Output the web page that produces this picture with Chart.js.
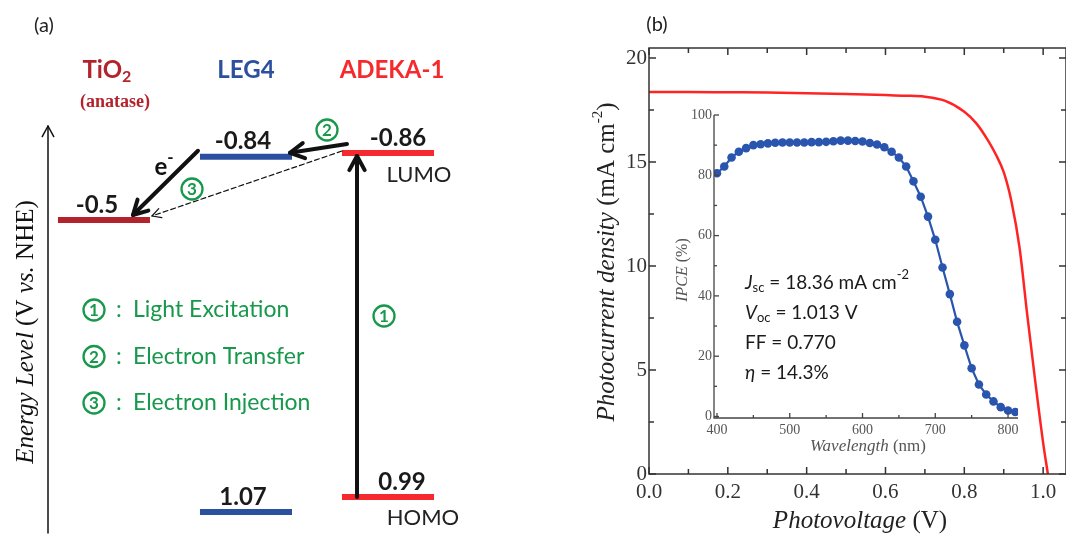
<!DOCTYPE html>
<html>
<head>
<meta charset="utf-8">
<script src="https://cdn.jsdelivr.net/npm/chart.js@4.4.0/dist/chart.umd.min.js"></script>
<style>
body{margin:0;background:#fff}
#wrap{position:relative;width:1066px;height:535px;overflow:hidden;background:#fff}
canvas{position:absolute}
</style>
</head>
<body>
<div id="wrap">
<canvas id="levels" width="560" height="535" style="left:0;top:0"></canvas>
<canvas id="jv" width="506" height="535" style="left:560px;top:0"></canvas>
<canvas id="ipce" width="370" height="370" style="left:660px;top:95px"></canvas>
</div>
<script>
// panel (a): energy levels (V vs NHE)
const species = ['TiO2', 'LEG4', 'ADEKA-1'];
const lumo = [-0.5, -0.84, -0.86];
const homo = [null, 1.07, 0.99];
const levelColors = ['#b3232b', '#2c50a0', '#f62a2e'];
const steps = ['Light Excitation', 'Electron Transfer', 'Electron Injection'];

// panel (b): J-V curve
const voltage = [0, 0.1, 0.2, 0.3, 0.4, 0.5, 0.6, 0.65, 0.7, 0.75, 0.8, 0.83, 0.86, 0.88, 0.9, 0.92, 0.94, 0.96, 0.98, 1.0, 1.012];
const current = [18.36, 18.36, 18.35, 18.34, 18.31, 18.27, 18.22, 18.19, 18.14, 17.95, 17.42, 16.87, 16.04, 15.36, 14.51, 13.07, 10.9, 7.6, 4.45, 1.5, 0];
const jvXTicks = [0, 0.2, 0.4, 0.6, 0.8, 1.0];
const jvXMinor = [0.1, 0.3, 0.5, 0.7, 0.9];
const jvYTicks = [0, 5, 10, 15, 20];
const jvYMinor = [2.5, 7.5, 12.5, 17.5];

// inset: IPCE spectrum
const wavelength = [400, 410, 420, 430, 440, 450, 460, 470, 480, 490, 500, 510, 520, 530, 540, 550, 560, 570, 580, 590, 600, 610, 620, 630, 640, 650, 660, 670, 680, 690, 700, 710, 720, 730, 740, 750, 760, 770, 780, 790, 800, 810];
const ipce = [80.7, 82.9, 85.9, 87.8, 89.0, 90.0, 90.3, 90.6, 90.8, 90.9, 90.9, 90.9, 90.9, 91.0, 91.0, 91.1, 91.3, 91.5, 91.5, 91.4, 91.2, 90.7, 90.2, 89.3, 87.8, 85.9, 82.9, 78.0, 72.9, 66.3, 58.6, 49.4, 40.6, 31.4, 23.6, 16.0, 10.6, 7.3, 5.0, 3.1, 2.0, 1.5];
const ipceXTicks = [400, 500, 600, 700, 800];
const ipceXMinor = [450, 550, 650, 750];
const ipceYTicks = [0, 20, 40, 60, 80, 100];
const ipceYMinor = [10, 30, 50, 70, 90];

const SERIF = '"Liberation Serif", "DejaVu Serif", serif';
const SANS = 'Lato, "Open Sans", sans-serif';
const GREEN = '#17984b';

function runs(ctx, parts, x, y, align) {
  let w = 0;
  parts.forEach(p => { ctx.font = p[1]; w += ctx.measureText(p[0]).width; });
  let cx = align === 'center' ? x - w / 2 : align === 'right' ? x - w : x;
  ctx.textAlign = 'left';
  parts.forEach(p => { ctx.font = p[1]; ctx.fillText(p[0], cx, y + (p[2] || 0)); cx += ctx.measureText(p[0]).width; });
}

function arrow(ctx, x1, y1, x2, y2, lw, head, dash) {
  ctx.save();
  ctx.lineWidth = lw; ctx.strokeStyle = '#111'; ctx.lineCap = 'round'; ctx.lineJoin = 'round';
  ctx.setLineDash(dash || []);
  ctx.beginPath(); ctx.moveTo(x1, y1); ctx.lineTo(x2, y2); ctx.stroke();
  ctx.setLineDash([]);
  const a = Math.atan2(y2 - y1, x2 - x1);
  ctx.beginPath();
  ctx.moveTo(x2 - head * Math.cos(a - 0.5), y2 - head * Math.sin(a - 0.5));
  ctx.lineTo(x2, y2);
  ctx.lineTo(x2 - head * Math.cos(a + 0.5), y2 - head * Math.sin(a + 0.5));
  ctx.stroke();
  ctx.restore();
}

// circled step number, green
function circled(ctx, n, x, y) {
  ctx.save();
  ctx.strokeStyle = GREEN; ctx.fillStyle = GREEN; ctx.lineWidth = 2.3;
  ctx.beginPath(); ctx.arc(x, y, 10.5, 0, Math.PI * 2); ctx.stroke();
  ctx.font = 'bold 17px ' + SANS; ctx.textAlign = 'center'; ctx.textBaseline = 'middle';
  ctx.fillText(String(n), x, y + 1);
  ctx.restore();
}

// ---------- panel (a)
const halfW = 0.324;
const levelSets = [];
species.forEach((s, i) => {
  [lumo[i], homo[i]].forEach(e => {
    if (e === null) return;
    levelSets.push({ data: [{ x: i - halfW, y: e }, { x: i + halfW, y: e }], borderColor: levelColors[i], borderWidth: 6, pointRadius: 0, borderCapStyle: 'butt' });
  });
});

const levelPlugin = {
  id: 'levelText',
  afterDraw(c) {
    const ctx = c.ctx, X = c.scales.x, Y = c.scales.y;
    const px = v => X.getPixelForValue(v), py = v => Y.getPixelForValue(v);
    ctx.save();
    ctx.textBaseline = 'middle';
    ctx.fillStyle = '#222';
    ctx.font = '20px ' + SANS; ctx.textAlign = 'center';
    ctx.fillText('(a)', 44, 26);

    // titles
    ctx.fillStyle = levelColors[0];
    runs(ctx, [['TiO', 'bold 24px ' + SANS], ['2', 'bold 16px ' + SANS, 7]], px(0) + 3, 70, 'center');
    ctx.font = 'bold 18px ' + SERIF; ctx.textAlign = 'center';
    ctx.fillText('(anatase)', px(0) + 11, 102);
    ctx.fillStyle = levelColors[1]; ctx.font = 'bold 24px ' + SANS;
    ctx.fillText(species[1], px(1), 70);
    ctx.fillStyle = levelColors[2];
    ctx.fillText(species[2], px(2) + 4, 70);

    // level values
    ctx.fillStyle = '#1a1a1a'; ctx.font = 'bold 24px ' + SANS;
    const dx = [-7, -3, 10];
    species.forEach((s, i) => {
      ctx.fillText(String(lumo[i]), px(i) + dx[i], py(lumo[i]) - 15);
      if (homo[i] !== null) ctx.fillText(homo[i].toFixed(2), px(i) + dx[i] + (i === 2 ? 4 : 0), py(homo[i]) - 15);
    });
    ctx.font = '22px ' + SANS; ctx.fillStyle = '#222';
    ctx.fillText('LUMO', px(2) + 31, py(lumo[2]) + 22);
    ctx.fillText('HOMO', px(2) + 35, py(homo[2]) + 21);

    // arrows
    const x0r = px(0 + halfW), x1l = px(1 - halfW), x1r = px(1 + halfW), x2l = px(2 - halfW);
    arrow(ctx, x1l - 2, py(lumo[1]) - 6, px(0) + 29, py(lumo[0]) - 5, 4, 16);
    arrow(ctx, x2l + 5, py(lumo[2]) - 9, x1r - 2, py(lumo[1]) - 4, 4, 16);
    arrow(ctx, x2l, py(lumo[2]) - 2, x0r + 2, py(lumo[0]) - 4, 1.2, 10, [5, 3]);
    arrow(ctx, px(2) - 31, py(homo[2]), px(2) - 31, py(lumo[2]) + 3, 4, 16);

    // annotations
    ctx.fillStyle = '#111';
    runs(ctx, [['e', 'bold 24px ' + SANS], ['-', 'bold 17px ' + SANS, -9]], 164, 167, 'center');
    circled(ctx, 1, px(2) - 4, 316);
    circled(ctx, 2, 327, 130);
    circled(ctx, 3, 192, 189);

    // legend
    ctx.fillStyle = GREEN;
    steps.forEach((t, k) => {
      const y = 310 + k * 46.5;
      circled(ctx, k + 1, 94, y);
      ctx.textAlign = 'left';
      ctx.font = '23px ' + SANS;
      ctx.fillText(':', 116, y);
      ctx.fillText(t, 133, y);
    });

    // vertical energy axis
    ctx.fillStyle = '#111';
    arrow(ctx, 48, 533, 48, 126, 1.5, 12);
    ctx.save(); ctx.translate(26, 332); ctx.rotate(-Math.PI / 2);
    runs(ctx, [['Energy Level', 'italic 25px ' + SERIF], [' (V ', '25px ' + SERIF], ['vs.', 'italic 25px ' + SERIF], [' NHE)', '25px ' + SERIF]], 0, 0, 'center');
    ctx.restore();
    ctx.restore();
  }
};

new Chart(document.getElementById('levels'), {
  type: 'line',
  data: { datasets: levelSets },
  options: {
    responsive: false, animation: false,
    plugins: { legend: { display: false }, tooltip: { enabled: false } },
    layout: { padding: 0 },
    scales: {
      x: { type: 'linear', display: false, min: -0.732, max: 3.211 },
      y: { type: 'linear', display: false, reverse: true, min: -1.683, max: 1.194 }
    }
  },
  plugins: [levelPlugin]
});

// ---------- panel (b)
function tickMarks(ctx, scale, values, len, sides, area) {
  values.forEach(v => {
    const p = scale.getPixelForValue(v);
    ctx.beginPath();
    if (scale.axis === 'x') {
      if (sides.includes('b')) { ctx.moveTo(p, area.bottom); ctx.lineTo(p, area.bottom - len); }
      if (sides.includes('t')) { ctx.moveTo(p, area.top); ctx.lineTo(p, area.top + len); }
    } else {
      if (sides.includes('l')) { ctx.moveTo(area.left, p); ctx.lineTo(area.left + len, p); }
      if (sides.includes('r')) { ctx.moveTo(area.right, p); ctx.lineTo(area.right - len, p); }
    }
    ctx.stroke();
  });
}

const jvFrame = {
  id: 'jvFrame',
  afterDraw(c) {
    const ctx = c.ctx, a = c.chartArea, X = c.scales.x, Y = c.scales.y;
    ctx.save();
    ctx.strokeStyle = '#333'; ctx.lineWidth = 1.5;
    ctx.strokeRect(a.left, a.top, a.right - a.left, a.bottom - a.top);
    tickMarks(ctx, X, jvXTicks, 7, 'bt', a);
    tickMarks(ctx, X, jvXMinor, 5, 'bt', a);
    tickMarks(ctx, Y, jvYTicks, 7, 'lr', a);
    tickMarks(ctx, Y, jvYMinor, 5, 'lr', a);
    ctx.fillStyle = '#222'; ctx.textBaseline = 'middle';
    ctx.font = '20px ' + SANS; ctx.textAlign = 'center';
    ctx.fillText('(b)', 97, 25);
    ctx.save(); ctx.translate(47, 262); ctx.rotate(-Math.PI / 2);
    runs(ctx, [['Photocurrent density', 'italic 25px ' + SERIF], [' (mA cm', '25px ' + SERIF], ['-2', '15px ' + SERIF, -9], [')', '25px ' + SERIF]], 0, 0, 'center');
    ctx.restore();
    runs(ctx, [['Photovoltage', 'italic 25px ' + SERIF], [' (V)', '25px ' + SERIF]], 300, 521, 'center');
    ctx.restore();
  }
};

new Chart(document.getElementById('jv'), {
  type: 'line',
  data: { datasets: [{ data: voltage.map((v, i) => ({ x: v, y: current[i] })), borderColor: '#ff2424', borderWidth: 2.5, pointRadius: 0, cubicInterpolationMode: 'monotone' }] },
  options: {
    responsive: false, animation: false,
    plugins: { legend: { display: false }, tooltip: { enabled: false } },
    layout: { padding: { top: 48, right: 0, left: 0, bottom: 0 } },
    scales: {
      x: {
        type: 'linear', min: 0, max: 1.058,
        afterFit: s => { s.height = 61; },
        afterBuildTicks: s => { s.ticks = jvXTicks.map(v => ({ value: v })); },
        grid: { display: false, drawTicks: false }, border: { display: false },
        ticks: { padding: 6, color: '#333', font: { family: SERIF, size: 21 }, maxRotation: 0, callback: v => v.toFixed(1) }
      },
      y: {
        type: 'linear', min: 0, max: 20.48,
        afterFit: s => { s.width = 89; },
        afterBuildTicks: s => { s.ticks = jvYTicks.map(v => ({ value: v })); },
        grid: { display: false, drawTicks: false }, border: { display: false },
        ticks: { padding: 2, color: '#333', font: { family: SERIF, size: 21 } }
      }
    }
  },
  plugins: [jvFrame]
});

// ---------- inset
const ipceFrame = {
  id: 'ipceFrame',
  afterDraw(c) {
    const ctx = c.ctx, a = c.chartArea, X = c.scales.x, Y = c.scales.y;
    ctx.save();
    ctx.strokeStyle = '#444'; ctx.lineWidth = 1.3;
    ctx.beginPath(); ctx.moveTo(a.left, a.top); ctx.lineTo(a.left, a.bottom); ctx.lineTo(a.right, a.bottom); ctx.stroke();
    tickMarks(ctx, X, ipceXTicks, 5, 'b', a);
    tickMarks(ctx, X, ipceXMinor, 3, 'b', a);
    tickMarks(ctx, Y, ipceYTicks, 5, 'l', a);
    tickMarks(ctx, Y, ipceYMinor, 3, 'l', a);
    ctx.fillStyle = '#555'; ctx.textBaseline = 'middle';
    ctx.save(); ctx.translate(23, 175); ctx.rotate(-Math.PI / 2);
    runs(ctx, [['IPCE', 'italic 16px ' + SERIF], [' (%)', '16px ' + SERIF]], 0, 0, 'center');
    ctx.restore();
    runs(ctx, [['Wavelength', 'italic 17px ' + SERIF], [' (nm)', '17px ' + SERIF]], 208, 352, 'center');

    ctx.fillStyle = '#1a1a1a';
    const tx = 85, f = '19px ' + SANS, fi = 'italic 19px ' + SANS, fs = '13px ' + SANS;
    runs(ctx, [['J', fi], ['sc', fs, 5], [' = 18.36 mA cm', f], ['-2', fs, -8]], tx, 188, 'left');
    runs(ctx, [['V', fi], ['oc', fs, 5], [' = 1.013 V', f]], tx, 218, 'left');
    runs(ctx, [['FF = 0.770', f]], tx, 248, 'left');
    runs(ctx, [['\u03b7', fi], [' = 14.3%', f]], tx, 278, 'left');
    ctx.restore();
  }
};

new Chart(document.getElementById('ipce'), {
  type: 'line',
  data: { datasets: [{ data: wavelength.map((w, i) => ({ x: w, y: ipce[i] })), borderColor: '#2a55ae', backgroundColor: '#2a55ae', borderWidth: 2.2, pointRadius: 4.3, pointBorderWidth: 0, tension: 0 }] },
  options: {
    responsive: false, animation: false,
    plugins: { legend: { display: false }, tooltip: { enabled: false } },
    layout: { padding: { top: 20, right: 12, left: 0, bottom: 0 } },
    scales: {
      x: {
        type: 'linear', min: 395.9, max: 813.7,
        afterFit: s => { s.height = 47; },
        afterBuildTicks: s => { s.ticks = ipceXTicks.map(v => ({ value: v })); },
        grid: { display: false, drawTicks: false }, border: { display: false },
        ticks: { padding: 4, color: '#555', font: { family: SERIF, size: 14 }, maxRotation: 0 }
      },
      y: {
        type: 'linear', min: -0.5, max: 100,
        afterFit: s => { s.width = 54; },
        afterBuildTicks: s => { s.ticks = ipceYTicks.map(v => ({ value: v })); },
        grid: { display: false, drawTicks: false }, border: { display: false },
        ticks: { padding: 2, color: '#555', font: { family: SERIF, size: 14 } }
      }
    }
  },
  plugins: [ipceFrame]
});
</script>
</body>
</html>
